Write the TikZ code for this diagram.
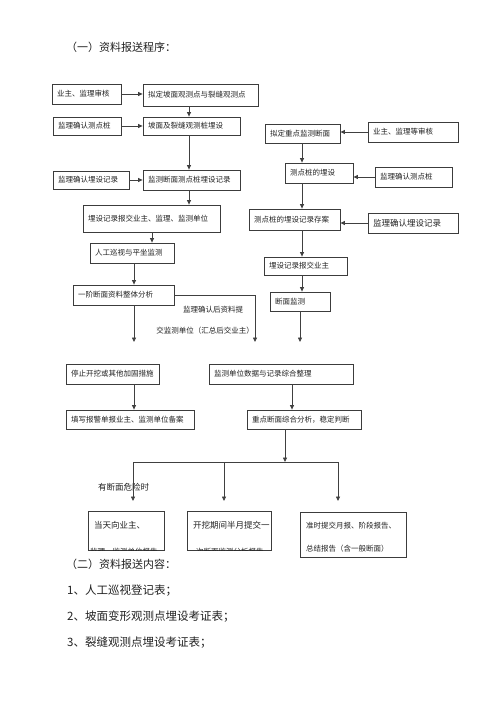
\documentclass[tikz,border=0pt]{standalone}
\usepackage{fontspec}
\newfontfamily\cjk{Noto Sans CJK SC}
\usetikzlibrary{arrows.meta}
\definecolor{boxc}{HTML}{3C3C3C}
\definecolor{linec}{HTML}{404040}
\definecolor{txtc}{HTML}{222222}
\begin{document}
\begin{tikzpicture}[x=1pt,y=-1pt,
  bx/.style={draw=boxc, line width=0.8pt, inner xsep=5pt, inner ysep=0pt, align=left,
    text=txtc, font=\cjk\fontsize{7.5}{9}\selectfont, anchor=center},
  ebox/.style={draw=boxc, line width=0.8pt, inner sep=0pt, anchor=center},
  ln/.style={draw=linec, line width=0.8pt},
  arr/.style={ln, -{Triangle[length=4.5pt,width=4pt]}},
  lbl/.style={inner sep=0pt, text=txtc, font=\cjk\fontsize{7.5}{9}\selectfont},
  kt/.style={inner sep=0pt, anchor=west, text=txtc, font=\cjk\fontsize{8}{10}\selectfont},
  head/.style={inner sep=0pt, anchor=west, text=txtc, font=\cjk\fontsize{11}{13}\selectfont}]
\useasboundingbox (0,0) rectangle (500,708);
\fill[white] (0,0) rectangle (500,708);

% headings
\node[head] (t1) at (66,47) {（一）资料报送程序：};
\node[head] (t2) at (66,564) {（二）资料报送内容：};
\node[head, font=\cjk\fontsize{11.5}{13}\selectfont] (t3) at (67,591) {1、人工巡视登记表；};
\node[head, font=\cjk\fontsize{11.5}{13}\selectfont] (t4) at (67,617) {2、坡面变形观测点埋设考证表；};
\node[head, font=\cjk\fontsize{11.5}{13}\selectfont] (t5) at (67,643) {3、裂缝观测点埋设考证表；};

% left column
\node[bx, minimum width=69pt, text width=59pt, minimum height=20pt] (A1) at (86.5,94) {业主、监理审核};
\node[bx, minimum width=115pt, text width=105pt, minimum height=22pt] (A2) at (200.5,95) {拟定坡面观测点与裂缝观测点};
\node[bx, minimum width=68pt, text width=58pt, minimum height=18pt] (B1) at (87,126) {监理确认测点桩};
\node[bx, minimum width=97pt, text width=87pt, minimum height=18pt] (B2) at (191.5,126) {坡面及裂缝观测桩埋设};
\node[bx, minimum width=76pt, text width=66pt, minimum height=18pt] (C1) at (91,180) {监理确认埋设记录};
\node[bx, minimum width=97pt, text width=87pt, minimum height=20pt] (C2) at (191.5,180) {监测断面测点桩埋设记录};
\node[bx, minimum width=137pt, text width=127pt, minimum height=27pt] (D) at (151.5,218.5) {埋设记录报交业主、监理、监测单位};
\node[bx, minimum width=84pt, text width=74pt, minimum height=20pt] (E) at (132,253) {人工巡视与平坐监测};
\node[bx, minimum width=101pt, text width=91pt, minimum height=20pt] (F) at (123.5,295) {一阶断面资料整体分析};

% right column
\node[bx, minimum width=75pt, text width=65pt, minimum height=19pt] (R1) at (302.5,133.5) {拟定重点监测断面};
\node[bx, minimum width=90pt, text width=80pt, minimum height=20pt] (R1b) at (413,132) {业主、监理等审核};
\node[bx, minimum width=68pt, text width=58pt, minimum height=20pt] (R2) at (319,173) {测点桩的埋设};
\node[bx, minimum width=77pt, text width=67pt, minimum height=20pt] (R2b) at (413.5,177) {监理确认测点桩};
\node[bx, minimum width=91pt, text width=81pt, minimum height=21pt] (R3) at (294.5,219.5) {测点桩的埋设记录存案};
\node[bx, minimum width=90pt, text width=80pt, minimum height=20pt, font=\cjk\fontsize{8.5}{10}\selectfont] (R3b) at (413,223) {监理确认埋设记录};
\node[bx, minimum width=83pt, text width=73pt, minimum height=18pt] (R4) at (305.5,266) {埋设记录报交业主};
\node[bx, minimum width=60pt, text width=50pt, minimum height=19pt] (R5) at (300,301.5) {断面监测};

% lower boxes
\node[bx, minimum width=93pt, text width=83pt, minimum height=20pt] (G1) at (112.5,374) {停止开挖或其他加固措施};
\node[bx, minimum width=144pt, text width=134pt, minimum height=20pt] (G2) at (281,374) {监测单位数据与记录综合整理};
\node[bx, minimum width=128pt, text width=118pt, minimum height=19pt] (H1) at (130,419.5) {填写报警单报业主、监测单位备案};
\node[bx, minimum width=114pt, text width=104pt, minimum height=19pt] (H2) at (304,419.5) {重点断面综合分析，稳定判断};

% bottom boxes
\node[ebox, minimum width=76pt, minimum height=39pt] (K1) at (126,530.5) {};
\node[ebox, minimum width=84pt, minimum height=39pt] (K2) at (229,530.5) {};
\node[ebox, minimum width=106pt, minimum height=45pt] (K3) at (353,534.5) {};
\node[kt, font=\cjk\fontsize{8.5}{10}\selectfont] (K1a) at (94,525) {当天向业主、};
\node[kt, font=\cjk\fontsize{8.5}{10}\selectfont] (K2a) at (193,525) {开挖期间半月提交一};
\node[kt, font=\cjk\fontsize{7.5}{9}\selectfont] (K3a) at (306,526) {准时提交月报、阶段报告、};
\node[kt, font=\cjk\fontsize{7.5}{9}\selectfont] (K3b) at (306,549) {总结报告（含一般断面）};
\begin{scope}
  \clip (K1.north west) rectangle (K1.south east);
  \node[kt, anchor=north west, font=\cjk\fontsize{7.5}{9}\selectfont] (K1b) at (90,548.2) {监理、监测单位报告};
\end{scope}
\begin{scope}
  \clip (K2.north west) rectangle (K2.south east);
  \node[kt, anchor=north west, font=\cjk\fontsize{7.5}{9}\selectfont] (K2b) at (196,548.2) {次断面监测分析报告};
\end{scope}

% labels
\node[lbl] (l1) at (213,310) {监理确认后资料提};
\node[lbl] (l2) at (205,331) {交监测单位（汇总后交业主）};
\node[lbl, font=\cjk\fontsize{8.5}{10}\selectfont] (l3) at (123.5,487) {有断面危险时};

% column coordinates
\coordinate (cA) at (189,0);
\coordinate (cB) at (152,0);
\coordinate (cC) at (134,0);
\coordinate (cR) at (302,0);
\coordinate (cG2) at (292,0);
\coordinate (f1) at (134,342);
\coordinate (f2) at (255,342);
\coordinate (f3) at (300,342);
\coordinate (j) at (285,462);
\coordinate (jL) at (133,462);
\coordinate (jM) at (224,462);
\coordinate (jR) at (338,462);
\coordinate (d1) at (133,501);
\coordinate (d2) at (224,501);
\coordinate (d3) at (338,501);

% connectors, left
\draw[arr] (A1.east) -- (A1.east -| A2.west);
\draw[arr] (A2.south -| cA) -- (B2.north -| cA);
\draw[arr] (B1.east) -- (B1.east -| B2.west);
\draw[arr] (B2.south -| cA) -- (C2.north -| cA);
\draw[arr] (C1.east) -- (C1.east -| C2.west);
\draw[arr] (C2.south -| cA) -- (D.north -| cA);
\draw[arr] (D.south -| cB) -- (E.north -| cB);
\draw[arr] (E.south -| cC) -- (F.north -| cC);
\draw[arr] (F.south -| cC) -- (f1);
\draw[arr] (F.east) -| (f2);
% connectors, right
\draw[arr] (R1b.west) -- (R1b.west -| R1.east);
\draw[arr] (R1.south -| cR) -- (R2.north -| cR);
\draw[arr] (R2b.west) -- (R2b.west -| R2.east);
\draw[arr] (R2.south -| cR) -- (R3.north -| cR);
\draw[arr] (R3b.west) -- (R3b.west -| R3.east);
\draw[arr] (R3.south -| cR) -- (R4.north -| cR);
\draw[arr] (R4.south -| cR) -- (R5.north -| cR);
\draw[arr] (R5.south -| f3) -- (f3);
% connectors, lower
\draw[arr] (G1.south -| cC) -- (H1.north -| cC);
\draw[arr] (G2.south -| cG2) -- (H2.north -| cG2);
\draw[arr] (H2.south -| j) -- (j);
\draw[ln] (jL) -- (jR);
\draw[arr] (jL) -- (d1);
\draw[arr] (jM) -- (d2);
\draw[arr] (jR) -- (d3);
\end{tikzpicture}
\end{document}
